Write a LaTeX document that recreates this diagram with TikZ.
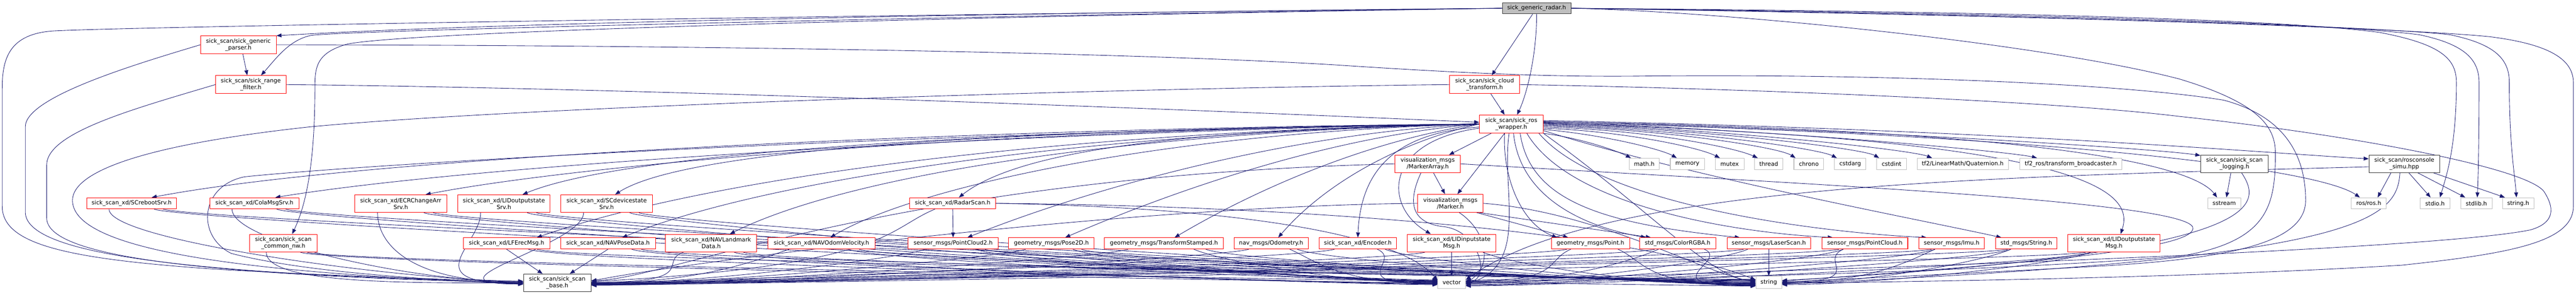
\documentclass[tikz,border=0pt]{standalone}
\usepackage{fontspec}
\newfontfamily\gvfont{DejaVu Sans}
\usetikzlibrary{arrows.meta,calc}
\definecolor{edgec}{HTML}{191970}
\definecolor{trunc}{HTML}{FF0000}
\definecolor{greyf}{HTML}{BFBFBF}
\pgfdeclarelayer{bg}
\pgfsetlayers{bg,main}
\begin{document}
\begin{tikzpicture}[x=0.75pt,y=0.49725pt,
  box/.style={draw,line width=0.9pt,fill=white,inner sep=0pt,align=center,
    font=\gvfont\fontsize{9.7}{11.1}\selectfont},
  rb/.style={box,draw=trunc},
  bb/.style={box,draw=black!80},
  gb/.style={box,draw=greyf},
  rootbox/.style={box,draw=black!80,fill=greyf},
  e/.style={draw=edgec,line width=0.75pt,-{Triangle[length=8.5pt,width=6.5pt]}},
  sz/.style 2 args={minimum width=#1*0.75pt,minimum height=#2*0.49725pt}
]
\useasboundingbox (0,0) rectangle (5792,-1000);
% ---------------- nodes
\node[rootbox,sz={154}{38}] (root) at (3455,-28) {sick\_generic\_radar.h};
\node[rb,sz={170}{60}] (parser) at (536,-152) {sick\_scan/sick\_generic\\\_parser.h};
\node[rb,sz={158}{61}] (range) at (564,-287) {sick\_scan/sick\_range\\\_filter.h};
\node[rb,sz={157}{61}] (cloud) at (3338,-287) {sick\_scan/sick\_cloud\\\_transform.h};
\node[rb,sz={143}{61}] (wrapper) at (3398,-421) {sick\_scan/sick\_ros\\\_wrapper.h};
\node[rb,sz={147}{59}] (markerarray) at (3210,-556) {visualization\_msgs\\/MarkerArray.h};
\node[rb,sz={147}{61}] (marker) at (3261,-690) {visualization\_msgs\\/Marker.h};
\node[gb,sz={68}{38}] (math) at (3697,-556) {math.h};
\node[gb,sz={77}{38}] (memory) at (3794,-556) {memory};
\node[gb,sz={65}{38}] (mutex) at (3889,-556) {mutex};
\node[gb,sz={64}{38}] (thread) at (3977,-556) {thread};
\node[gb,sz={67}{38}] (chrono) at (4067,-556) {chrono};
\node[gb,sz={71}{38}] (cstdarg) at (4160,-556) {cstdarg};
\node[gb,sz={67}{38}] (cstdint) at (4253,-556) {cstdint};
\node[gb,sz={205}{38}] (quat) at (4413,-556) {tf2/LinearMath/Quaternion.h};
\node[gb,sz={230}{38}] (bcast) at (4656,-556) {tf2\_ros/transform\_broadcaster.h};
\node[bb,sz={152}{59}] (logging) at (5024,-556) {sick\_scan/sick\_scan\\\_logging.h};
\node[bb,sz={159}{59}] (rosconsole) at (5406,-556) {sick\_scan/rosconsole\\\_simu.hpp};
\node[gb,sz={74}{38}] (sstream) at (5001,-690) {sstream};
\node[gb,sz={79}{38}] (rosh) at (5326,-690) {ros/ros.h};
\node[gb,sz={67}{38}] (stdio) at (5475,-690) {stdio.h};
\node[gb,sz={71}{38}] (stdlib) at (5568,-690) {stdlib.h};
\node[gb,sz={71}{38}] (stringh) at (5662,-690) {string.h};
\node[rb,sz={202}{38}] (reboot) at (296,-690) {sick\_scan\_xd/SCrebootSrv.h};
\node[rb,sz={200}{38}] (colamsg) at (572,-690) {sick\_scan\_xd/ColaMsgSrv.h};
\node[rb,sz={207}{60}] (ecr) at (901,-691) {sick\_scan\_xd/ECRChangeArr\\Srv.h};
\node[rb,sz={208}{60}] (lidout) at (1133,-691) {sick\_scan\_xd/LIDoutputstate\\Srv.h};
\node[rb,sz={206}{60}] (scdev) at (1364,-691) {sick\_scan\_xd/SCdevicestate\\Srv.h};
\node[rb,sz={193}{38}] (radarscan) at (2142,-690) {sick\_scan\_xd/RadarScan.h};
\node[rb,sz={152}{60}] (commonnw) at (637,-825) {sick\_scan/sick\_scan\\\_common\_nw.h};
\node[rb,sz={195}{38}] (lferec) at (1139,-826) {sick\_scan\_xd/LFErecMsg.h};
\node[rb,sz={213}{38}] (navpose) at (1367,-826) {sick\_scan\_xd/NAVPoseData.h};
\node[rb,sz={205}{60}] (navland) at (1599,-825) {sick\_scan\_xd/NAVLandmark\\Data.h};
\node[rb,sz={241}{38}] (navodom) at (1847,-826) {sick\_scan\_xd/NAVOdomVelocity.h};
\node[rb,sz={203}{38}] (pc2) at (2143,-826) {sensor\_msgs/PointCloud2.h};
\node[rb,sz={192}{38}] (pose2d) at (2364,-826) {geometry\_msgs/Pose2D.h};
\node[rb,sz={268}{38}] (tfstamped) at (2617,-826) {geometry\_msgs/TransformStamped.h};
\node[rb,sz={167}{38}] (odom) at (2858,-826) {nav\_msgs/Odometry.h};
\node[rb,sz={174}{38}] (encoder) at (3053,-826) {sick\_scan\_xd/Encoder.h};
\node[rb,sz={199}{60}] (lidin) at (3264,-825) {sick\_scan\_xd/LIDinputstate\\Msg.h};
\node[rb,sz={176}{38}] (point) at (3576,-826) {geometry\_msgs/Point.h};
\node[rb,sz={171}{38}] (color) at (3772,-826) {std\_msgs/ColorRGBA.h};
\node[rb,sz={188}{38}] (laser) at (3977,-826) {sensor\_msgs/LaserScan.h};
\node[rb,sz={193}{38}] (pcloud) at (4193,-826) {sensor\_msgs/PointCloud.h};
\node[rb,sz={148}{38}] (imu) at (4388,-826) {sensor\_msgs/Imu.h};
\node[rb,sz={138}{38}] (strmsg) at (4556,-826) {std\_msgs/String.h};
\node[rb,sz={208}{60}] (lidoutmsg) at (4753,-825) {sick\_scan\_xd/LIDoutputstate\\Msg.h};
\node[bb,sz={152}{60}] (base) at (1253,-960) {sick\_scan/sick\_scan\\\_base.h};
\node[gb,sz={62}{42}] (vector) at (3264,-958) {vector};
\node[gb,sz={58}{42}] (string) at (3977,-958) {string};
% ---------------- edges
\begin{pgfonlayer}{bg}
% root
\draw[e] (root.west) .. controls (2500,-40) and (1200,-70) .. (parser.north east);
\draw[e] (root.west) .. controls (2500,-45) and (800,-100) .. (700,-120) .. controls (650,-135) and (620,-200) .. ($(range.north)+(23,0)$);
\draw[e] (root.west) .. controls (2000,-50) and (300,-90) .. (120,-105) .. controls (20,-115) and (5,-200) .. (5,-300) -- (5,-700) .. controls (5,-830) and (150,-880) .. (500,-915) .. controls (800,-940) and (1000,-948) .. ($(base.west)+(0,5)$);
\draw[e] (root.west) .. controls (2000,-60) and (900,-110) .. (780,-150) .. controls (710,-180) and (708,-230) .. (708,-300) .. controls (708,-600) and (680,-720) .. ($(commonnw.north)+(20,0)$);
\draw[e] ($(root.south)+(-9,0)$) -- ($(cloud.north)+(16,0)$);
\draw[e] (root.south) .. controls (3455,-200) and (3430,-330) .. ($(wrapper.north)+(13,0)$);
\draw[e] (root.east) .. controls (4600,-40) and (5150,-70) .. (5350,-110) .. controls (5490,-150) and (5523,-200) .. (5523,-280) .. controls (5523,-500) and (5500,-600) .. ($(stdio.north)+(11,0)$);
\draw[e] (root.east) .. controls (4600,-45) and (5250,-80) .. (5440,-118) .. controls (5540,-150) and (5574,-200) .. (5574,-280) .. controls (5574,-500) and (5572,-600) .. ($(stdlib.north)+(2,0)$);
\draw[e] (root.east) .. controls (4600,-50) and (5350,-90) .. (5509,-118) .. controls (5610,-150) and (5642,-200) .. (5642,-280) .. controls (5642,-500) and (5655,-600) .. ($(stringh.north)+(-4,0)$);
\draw[e] (root.east) .. controls (4700,-55) and (5450,-100) .. (5600,-125) .. controls (5730,-150) and (5786,-200) .. (5786,-280) -- (5786,-700) .. controls (5786,-820) and (5650,-860) .. (5400,-900) .. controls (4900,-945) and (4300,-955) .. ($(string.east)+(0,-4)$);
\draw[e] (root.east) .. controls (3900,-40) and (4600,-150) .. (4900,-268) .. controls (5080,-350) and (5116,-430) .. (5116,-520) .. controls (5116,-700) and (5100,-820) .. (4900,-870) .. controls (4400,-930) and (3600,-950) .. ($(vector.east)+(0,3)$);
% parser
\draw[e] ($(parser.south)+(10,0)$) -- ($(range.north)+(-8,0)$);
\draw[e] (parser.west) .. controls (300,-220) and (57,-330) .. (57,-430) -- (57,-720) .. controls (57,-860) and (400,-930) .. ($(base.west)+(0,2)$);
\draw[e] (parser.east) .. controls (1500,-153) and (2500,-175) .. (3000,-220) .. controls (3300,-250) and (3500,-262) .. (3700,-258) .. controls (4300,-250) and (4800,-290) .. (5000,-340) .. controls (5150,-400) and (5184,-550) .. (5184,-680) .. controls (5184,-830) and (5000,-880) .. (4700,-905) .. controls (4400,-930) and (4100,-950) .. (string.east);
% range
\draw[e] (range.east) .. controls (1500,-300) and (2800,-380) .. ($(wrapper.west)+(0,6)$);
\draw[e] (range.west) .. controls (300,-370) and (105,-450) .. (105,-560) -- (105,-740) .. controls (105,-880) and (500,-935) .. (base.west);
% cloud
\draw[e] ($(cloud.south)+(14,0)$) -- ($(wrapper.north)+(-15,0)$);
\draw[e] (cloud.west) .. controls (2500,-300) and (1200,-360) .. (700,-430) .. controls (330,-490) and (163,-580) .. (163,-680) .. controls (163,-860) and (600,-930) .. ($(base.west)+(0,-2)$);
\draw[e] (cloud.east) .. controls (3900,-300) and (4600,-340) .. (4900,-395) .. controls (5300,-460) and (5680,-570) .. (5720,-650) .. controls (5750,-720) and (5735,-760) .. (5690,-780) .. controls (5500,-840) and (4500,-900) .. ($(vector.east)+(0,6)$);
% wrapper -> left targets
\draw[e] (wrapper.west) .. controls (2500,-428) and (900,-510) .. ($(reboot.north)+(45,0)$);
\draw[e] (wrapper.west) .. controls (2500,-440) and (1150,-540) .. ($(colamsg.north)+(47,0)$);
\draw[e] (wrapper.west) .. controls (2200,-440) and (1300,-560) .. ($(ecr.north)+(56,0)$);
\draw[e] (wrapper.west) .. controls (2200,-440) and (1400,-520) .. ($(lidout.north)+(42,0)$);
\draw[e] (wrapper.west) .. controls (2300,-440) and (1550,-500) .. ($(scdev.north)+(19,0)$);
\draw[e] (wrapper.west) .. controls (2300,-450) and (1560,-620) .. ($(lferec.north)+(68,0)$);
\draw[e] (wrapper.west) .. controls (2400,-450) and (1700,-620) .. ($(navpose.north)+(32,0)$);
\draw[e] (wrapper.west) .. controls (2500,-450) and (1900,-600) .. ($(navland.north)+(42,0)$);
\draw[e] (wrapper.west) .. controls (2600,-450) and (2050,-640) .. ($(navodom.north)+(20,0)$);
\draw[e] (wrapper.west) .. controls (2700,-440) and (2300,-500) .. ($(radarscan.north)+(14,0)$);
\draw[e] (wrapper.west) .. controls (2900,-450) and (2450,-640) .. ($(pc2.north)+(32,0)$);
\draw[e] (wrapper.west) .. controls (3000,-460) and (2650,-640) .. ($(pose2d.north)+(31,0)$);
\draw[e] (wrapper.west) .. controls (3100,-470) and (2850,-620) .. ($(tfstamped.north)+(24,0)$);
\draw[e] (wrapper.west) .. controls (3150,-480) and (2980,-620) .. ($(odom.north)+(16,0)$);
\draw[e] ($(wrapper.west)+(0,-10)$) .. controls (3150,-450) and (3060,-560) .. (encoder.north);
\draw[e] ($(wrapper.west)+(0,-14)$) .. controls (3110,-480) and (3110,-700) .. ($(lidin.north)+(-47,0)$);
\draw[e] ($(wrapper.south)+(-45,0)$) -- ($(markerarray.north)+(48,0)$);
\draw[e] ($(wrapper.south)+(-15,0)$) -- ($(marker.north)+(16,0)$);
\draw[e] (wrapper.west) .. controls (2000,-450) and (800,-560) .. (550,-600) .. controls (450,-630) and (440,-800) .. (520,-860) .. controls (700,-930) and (1000,-950) .. ($(base.west)+(0,-5)$);
% wrapper -> right targets
\draw[e] (wrapper.south east) .. controls (3560,-470) and (3640,-515) .. ($(math.north)+(-30,0)$);
\draw[e] ($(wrapper.east)+(0,-18)$) .. controls (3620,-460) and (3740,-510) .. ($(memory.north)+(-24,0)$);
\draw[e] ($(wrapper.east)+(0,-14)$) .. controls (3650,-445) and (3820,-500) .. ($(mutex.north)+(-22,0)$);
\draw[e] ($(wrapper.east)+(0,-10)$) .. controls (3700,-440) and (3900,-500) .. ($(thread.north)+(-25,0)$);
\draw[e] ($(wrapper.east)+(0,-6)$) .. controls (3750,-440) and (4000,-500) .. ($(chrono.north)+(-30,0)$);
\draw[e] ($(wrapper.east)+(0,-3)$) .. controls (3800,-440) and (4090,-505) .. ($(cstdarg.north)+(-30,0)$);
\draw[e] (wrapper.east) .. controls (3850,-440) and (4190,-505) .. ($(cstdint.north)+(-28,0)$);
\draw[e] ($(wrapper.east)+(0,3)$) .. controls (3900,-440) and (4300,-510) .. ($(quat.north)+(-69,0)$);
\draw[e] ($(wrapper.east)+(0,6)$) .. controls (4000,-440) and (4520,-515) .. ($(bcast.north)+(-76,0)$);
\draw[e] ($(wrapper.east)+(0,9)$) .. controls (4200,-440) and (4850,-505) .. ($(logging.north west)+(0,-2)$);
\draw[e] ($(wrapper.east)+(0,12)$) .. controls (4500,-440) and (5100,-520) .. ($(rosconsole.west)+(0,17)$);
\draw[e] ($(wrapper.east)+(0,8)$) .. controls (4600,-440) and (4930,-560) .. ($(sstream.north)+(-16,0)$);
\draw[e] ($(wrapper.east)+(0,5)$) .. controls (4500,-450) and (5200,-560) .. ($(rosh.north)+(-20,0)$);
\draw[e] ($(wrapper.south)+(-15,0)$) .. controls (3378,-600) and (3420,-760) .. ($(point.north)+(-75,0)$);
\draw[e] ($(wrapper.south)+(5,0)$) .. controls (3420,-700) and (3600,-780) .. ($(color.north)+(-71,0)$);
\draw[e] ($(wrapper.south)+(20,0)$) .. controls (3440,-680) and (3600,-760) .. ($(laser.north)+(-65,0)$);
\draw[e] ($(wrapper.south)+(35,0)$) .. controls (3530,-700) and (3900,-790) .. ($(pcloud.north)+(-72,0)$);
\draw[e] ($(wrapper.south east)+(-10,0)$) .. controls (3600,-700) and (4100,-790) .. ($(imu.north)+(-56,0)$);
\draw[e] ($(wrapper.east)+(0,-22)$) .. controls (3800,-600) and (4300,-740) .. ($(strmsg.north)+(-56,0)$);
\draw[e] ($(wrapper.east)+(0,2)$) .. controls (4700,-470) and (4800,-650) .. ($(lidoutmsg.north)+(15,0)$);
\draw[e] ($(wrapper.south)+(-5,0)$) .. controls (3375,-650) and (3440,-900) .. ($(vector.east)+(0,-6)$);
\draw[e] (wrapper.south east) .. controls (3700,-700) and (3850,-950) .. ($(string.west)+(0,6)$);
% marker array / marker
\draw[e] ($(markerarray.south)+(13,0)$) -- ($(marker.north)+(-12,0)$);
\draw[e] ($(markerarray.south)+(-15,0)$) .. controls (3160,-700) and (3180,-760) .. (3250,-770) .. controls (3330,-790) and (3350,-950) .. ($(vector.east)+(0,2)$);
\draw[e] (markerarray.east) .. controls (4000,-620) and (4900,-680) .. (4930,-770) .. controls (4950,-850) and (4500,-900) .. ($(string.east)+(0,4)$);
\draw[e] (markerarray.west) .. controls (2000,-600) and (1500,-950) .. ($(base.east)+(0,8)$);
\draw[e] ($(marker.south east)+(-15,0)$) -- ($(point.north)+(-50,0)$);
\draw[e] ($(marker.south east)+(-10,0)$) -- ($(color.north)+(-60,0)$);
\draw[e] ($(marker.south)+(20,0)$) .. controls (3340,-780) and (3360,-900) .. ($(vector.east)+(0,-2)$);
\draw[e] (marker.east) .. controls (3600,-720) and (3850,-940) .. ($(string.west)+(0,3)$);
\draw[e] (marker.west) .. controls (2500,-700) and (1500,-900) .. ($(base.east)+(0,6)$);
% radar scan
\draw[e] (radarscan.south) -- (pc2.north);
\draw[e] ($(radarscan.south)+(-40,0)$) .. controls (1990,-780) and (2000,-900) .. ($(base.east)+(0,4)$);
\draw[e] (radarscan.east) .. controls (2800,-705) and (3150,-800) .. ($(vector.west)+(0,6)$);
\draw[e] (radarscan.east) .. controls (3000,-700) and (3700,-800) .. ($(string.west)+(0,8)$);
% logging / rosconsole
\draw[e] ($(logging.south)+(-8,0)$) -- ($(sstream.north)+(5,0)$);
\draw[e] ($(logging.south)+(16,0)$) .. controls (5090,-700) and (5100,-860) .. ($(string.east)+(0,6)$);
\draw[e] ($(rosconsole.south)+(-30,0)$) -- ($(rosh.north)+(20,0)$);
\draw[e] ($(rosconsole.south)+(10,0)$) -- ($(stdio.north)+(-10,0)$);
\draw[e] ($(rosconsole.south)+(30,0)$) -- ($(stdlib.north)+(-25,0)$);
\draw[e] ($(rosconsole.south east)+(-15,0)$) -- ($(stringh.north)+(-30,0)$);
\draw[e] ($(rosconsole.south)+(-10,0)$) .. controls (5390,-750) and (5300,-880) .. ($(string.east)+(0,-6)$);
\draw[e] ($(rosconsole.west)+(0,-10)$) .. controls (4500,-600) and (3600,-620) .. ($(vector.east)+(0,8)$);
% message headers -> base / vector / string
\foreach \n/\dy in {reboot/6,colamsg/4,ecr/2,commonnw/0,lidout/-2,scdev/-4}
  \draw[e] ($(\n.south)!0.5!(\n.south west)$) .. controls +(0,-110) and +(-250,0) .. ($(base.west)+(0,\dy)$);
\draw[e] (lferec.south) -- ($(base.north)+(-33,0)$);
\draw[e] (navpose.south) -- ($(base.north)+(28,0)$);
\foreach \n/\dy in {navland/2,navodom/0,pc2/-2,pose2d/-4,tfstamped/-6,odom/-8,encoder/2,lidin/0,point/-2,color/-4,laser/-6,pcloud/-8,imu/-3,strmsg/-5,lidoutmsg/-7}
  \draw[e] ($(\n.south)!0.6!(\n.south west)$) .. controls +(-60,-30) and +(250,0) .. ($(base.east)+(0,\dy)$);
\foreach \n/\dy in {reboot/8,colamsg/6,ecr/4,lidout/2,scdev/0,commonnw/-2,lferec/-4,navpose/-6,navland/-8,navodom/5,pc2/3,pose2d/1,tfstamped/-1,odom/-3,encoder/-5}
  \draw[e] ($(\n.south)!0.5!(\n.south east)$) .. controls +(60,-40) and +(-220,0) .. ($(vector.west)+(0,\dy)$);
\draw[e] (lidin.south) -- (vector.north);
\foreach \n/\dy in {point/4,color/1,laser/-2,pcloud/-4,imu/-8,strmsg/-10,lidoutmsg/-12}
  \draw[e] ($(\n.south)!0.5!(\n.south west)$) .. controls +(-60,-40) and +(220,0) .. ($(vector.east)+(0,\dy)$);
\foreach \n/\dy in {reboot/-2,colamsg/-4,ecr/-6,lidout/-8,scdev/-10,commonnw/-12,lferec/10,navpose/8,navland/6,navodom/4,pc2/2,pose2d/0,tfstamped/-3,odom/-5,encoder/-7,lidin/-9,point/-11,color/-13}
  \draw[e] ($(\n.south)!0.7!(\n.south east)$) .. controls +(60,-40) and +(-250,0) .. ($(string.west)+(0,\dy)$);
\draw[e] (laser.south) -- (string.north);
\foreach \n/\dy in {pcloud/2,imu/0,strmsg/-2,lidoutmsg/-8}
  \draw[e] ($(\n.south)!0.5!(\n.south west)$) .. controls +(-60,-40) and +(200,0) .. ($(string.east)+(0,\dy)$);
\end{pgfonlayer}
\end{tikzpicture}
\end{document}
